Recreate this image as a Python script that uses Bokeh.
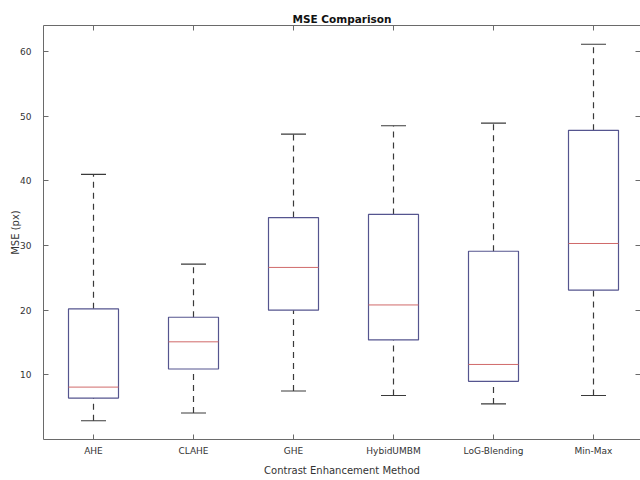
from bokeh.plotting import figure
from bokeh.models import Range1d, LinearAxis, FixedTicker, ColumnDataSource, CustomJSTickFormatter
from bokeh.transform import dodge
from bokeh.embed import file_html
from bokeh.resources import INLINE

methods = ["AHE", "CLAHE", "GHE", "HybidUMBM", "LoG-Blending", "Min-Max"]
whisker_low = [2.9, 4.1, 7.5, 6.8, 5.5, 6.8]
q1 = [6.4, 10.9, 20.0, 15.4, 9.0, 23.1]
median = [8.1, 15.1, 26.6, 20.8, 11.6, 30.3]
q3 = [20.2, 18.9, 34.3, 34.8, 29.1, 47.8]
whisker_high = [41.0, 27.1, 47.2, 48.5, 48.9, 61.1]
y_ticks = [10, 20, 30, 40, 50, 60]

pos = list(range(1, len(methods) + 1))
src = ColumnDataSource(dict(x=pos, lo=whisker_low, q1=q1, med=median, q3=q3, hi=whisker_high))

FONT = "DejaVu Sans"
AX = "#6a6a6a"
TXT = "#333333"

p = figure(width=640, height=480, x_range=Range1d(0.5, 6.47),
           y_range=Range1d(0, 64), output_backend="svg", toolbar_location=None,
           title="MSE Comparison", min_border_left=43, min_border_right=0,
           min_border_top=25, min_border_bottom=41)
p.outline_line_color = None
p.grid.visible = False
p.background_fill_color = "white"
p.border_fill_color = "white"

p.title.align = "center"
p.title.text_font = FONT
p.title.text_font_size = "10.5px"
p.title.text_font_style = "bold"
p.title.text_color = "#111111"
p.title.standoff = 2

empty = CustomJSTickFormatter(code="return ''")

def style(ax):
    ax.major_tick_in = 5
    ax.major_tick_out = 0
    ax.minor_tick_line_color = None
    ax.axis_line_color = AX
    ax.major_tick_line_color = AX
    ax.major_label_text_font = FONT
    ax.major_label_text_color = TXT

xa = p.xaxis[0]
style(xa)
xa.ticker = FixedTicker(ticks=pos)
xa.major_label_overrides = {i: m for i, m in zip(pos, methods)}
xa.major_label_text_font_size = "9px"
xa.major_label_standoff = 6
xa.axis_label = "Contrast Enhancement Method"
xa.axis_label_text_font = FONT
xa.axis_label_text_font_size = "10px"
xa.axis_label_text_font_style = "normal"
xa.axis_label_text_color = TXT
xa.axis_label_standoff = 6

ya = p.yaxis[0]
style(ya)
ya.ticker = FixedTicker(ticks=y_ticks)
ya.major_label_text_font_size = "9px"
ya.major_label_standoff = 12
ya.axis_label = "MSE (px)"
ya.axis_label_text_font = FONT
ya.axis_label_text_font_size = "10px"
ya.axis_label_text_font_style = "normal"
ya.axis_label_text_color = TXT
ya.axis_label_standoff = -4

top = LinearAxis(ticker=FixedTicker(ticks=pos), formatter=empty, major_label_standoff=0)
style(top)
p.add_layout(top, "above")

right = LinearAxis(ticker=FixedTicker(ticks=y_ticks), formatter=empty, major_label_standoff=0)
style(right)
right.axis_line_color = None
p.add_layout(right, "right")

WH = "#3a3a3a"
BOX = "#55558f"
MED = "#d06a6a"

p.segment(x0="x", y0="q3", x1="x", y1="hi", source=src, line_color=WH, line_dash="6 5", line_width=1.2)
p.segment(x0="x", y0="lo", x1="x", y1="q1", source=src, line_color=WH, line_dash="6 5", line_width=1.2)
p.segment(x0=dodge("x", -0.125), y0="hi", x1=dodge("x", 0.125), y1="hi",
          source=src, line_color=WH, line_width=1.2)
p.segment(x0=dodge("x", -0.125), y0="lo", x1=dodge("x", 0.125), y1="lo",
          source=src, line_color=WH, line_width=1.2)
p.vbar(x="x", width=0.5, bottom="q1", top="q3", source=src, fill_color=None, line_color=BOX, line_width=1.2)
p.segment(x0=dodge("x", -0.25), y0="med", x1=dodge("x", 0.25), y1="med",
          source=src, line_color=MED, line_width=1)

open("out.html", "w").write(file_html(p, INLINE))
